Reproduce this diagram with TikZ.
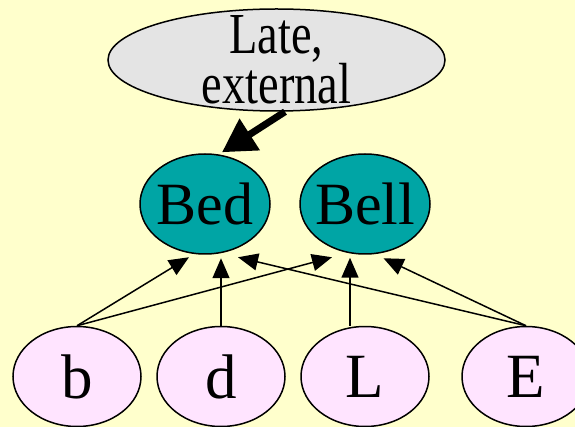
\documentclass[tikz,border=0pt]{standalone}
\usepackage{fontspec}
\setmainfont{Liberation Serif}
\usetikzlibrary{shapes.geometric,arrows.meta}

\definecolor{slidebg}{RGB}{255,255,204}
\definecolor{nodeteal}{RGB}{0,165,165}
\definecolor{nodepink}{RGB}{255,228,255}
\definecolor{nodegrey}{RGB}{228,228,228}

\tikzset{
  basenode/.style={ellipse, draw=black, line width=1.5pt, inner sep=0pt},
  topnode/.style={basenode, fill=nodegrey, minimum width=337pt, minimum height=102pt},
  toplabel/.style={inner sep=0pt, align=center, font=\fontsize{58}{48}\selectfont},
  midnode/.style={basenode, fill=nodeteal, minimum width=130pt, minimum height=100pt,
    font=\fontsize{60}{60}\selectfont},
  lownode/.style={basenode, fill=nodepink, minimum width=128pt, minimum height=100pt,
    font=\fontsize{63}{63}\selectfont},
  thinedge/.style={line width=1.5pt, -{Triangle[length=20pt,width=17pt]}},
  thickedge/.style={line width=7pt, -{Triangle[length=33pt,width=36pt]}}
}

\begin{document}
\begin{tikzpicture}[x=1pt,y=-1pt]
  \fill[slidebg] (0,0) rectangle (575,427);
  \useasboundingbox (0,0) rectangle (575,427);

  % top cause
  \node[topnode] (Late) at (276.5,60) {};
  \node[toplabel] (Late-text) at (Late.center)
    {\scalebox{0.8}[1]{Late,}\\\scalebox{0.8}[1]{external}};

  % middle layer
  \node[midnode] (Bed)  at (205,204) {\makebox[0pt]{Bed}};
  \node[midnode] (Bell) at (365,204) {\makebox[0pt]{Bell}};

  % bottom layer
  \node[lownode] (b) at (77,376.5)  {\makebox[0pt]{b}};
  \node[lownode] (d) at (221,376.5) {\makebox[0pt]{d}};
  \node[lownode] (L) at (365,376.5) {\makebox[0pt]{L}};
  \node[lownode] (E) at (526,376.5) {\makebox[0pt]{E}};

  % connectors
  \draw[thickedge] ([xshift=8.5pt]Late.south) -- ([xshift=17pt,yshift=1pt]Bed.north);

  \draw[thinedge] (b.north) -- ([xshift=-16pt,yshift=-2.5pt]Bed.south);
  \draw[thinedge] (d.north) -- ([xshift=16pt,yshift=-3.5pt]Bed.south);
  \draw[thinedge] (E.north) -- ([xshift=33pt,yshift=-2.5pt]Bed.south);

  \draw[thinedge] (b.north) -- ([xshift=-33pt,yshift=-2.5pt]Bell.south);
  \draw[thinedge] ([xshift=-15pt]L.north) -- ([xshift=-15pt,yshift=-3pt]Bell.south);
  \draw[thinedge] (E.north) -- ([xshift=18.5pt,yshift=-3.5pt]Bell.south);
\end{tikzpicture}
\end{document}
